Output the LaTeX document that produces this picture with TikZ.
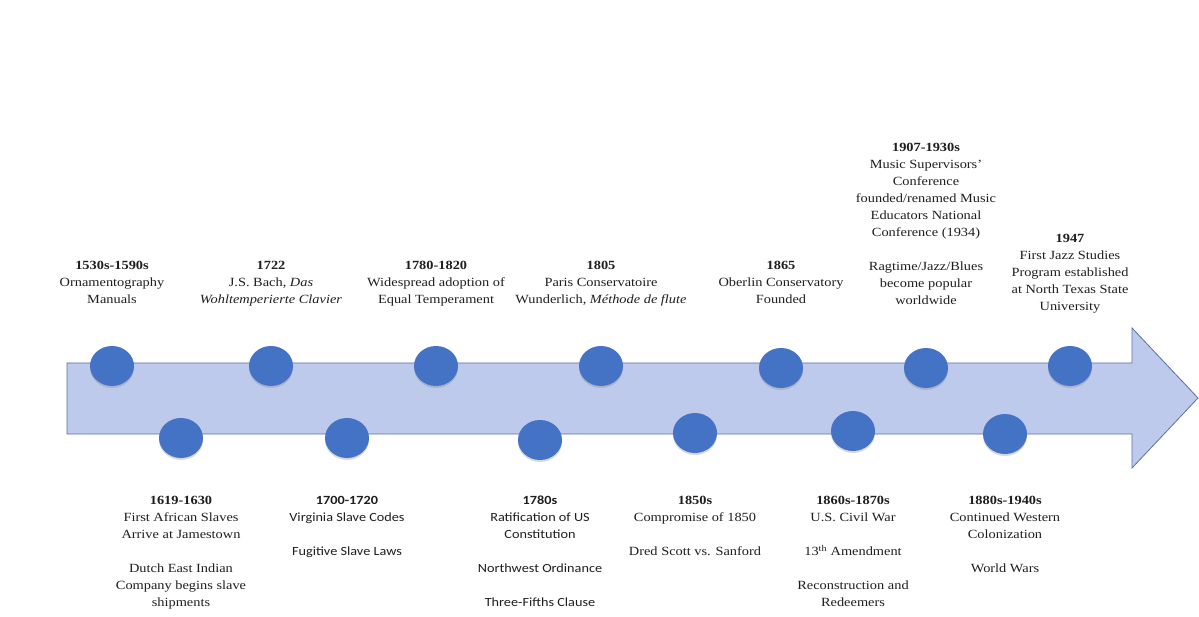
\documentclass[tikz,border=0pt]{standalone}
\usepackage{fontspec}
\setmainfont{Liberation Serif}[FakeStretch=1.15]
\newfontfamily\calibri{Carlito}[FakeStretch=1.14]
\usetikzlibrary{shapes.geometric,shadows}

\definecolor{dotblue}{RGB}{68,114,196}
\definecolor{bandfill}{RGB}{190,202,236}
\definecolor{bandline}{RGB}{88,112,168}
\definecolor{inktext}{RGB}{30,30,30}

\tikzset{
  event/.style={ellipse, fill=dotblue, minimum width=44pt, minimum height=40pt, inner sep=0pt,
    drop shadow={shadow xshift=0pt, shadow yshift=-2pt, opacity=0.3}},
  eventlabel/.style={align=center, anchor=north, inner sep=0pt, text=inktext,
    font=\fontsize{12.5}{17}\selectfont},
  band/.style={fill=bandfill, draw=bandline, line width=0.8pt}
}

\begin{document}
\begin{tikzpicture}[x=1pt, y=-1pt]
    \useasboundingbox (0,0) rectangle (1199,617);
    % the arrow
    \draw[band] (67,363) -- (1132,363) -- (1132,328) -- (1198,398) -- (1132,468) -- (1132,434) -- (67,434) -- cycle;
    % dots above the line
    \node[event] (dot1530) at (112,366) {};
    \node[event] (dot1722) at (271,366) {};
    \node[event] (dot1780) at (436,366) {};
    \node[event] (dot1805) at (601,366) {};
    \node[event] (dot1865) at (781,368) {};
    \node[event] (dot1907) at (926,368) {};
    \node[event] (dot1947) at (1070,366) {};
    % dots below the line
    \node[event] (dot1619) at (181,438) {};
    \node[event] (dot1700) at (347,438) {};
    \node[event] (dot1780s) at (540,440) {};
    \node[event] (dot1850) at (695,433) {};
    \node[event] (dot1860) at (853,431) {};
    \node[event] (dot1880) at (1005,434) {};
    % music education, top
    \node[eventlabel] (lab1530) at (112,261) {\textbf{1530s-1590s}\\Ornamentography\\Manuals};
    \node[eventlabel] (lab1722) at (271,261) {\textbf{1722}\\J.S. Bach, \textit{Das}\\\textit{Wohltemperierte Clavier}};
    \node[eventlabel] (lab1780) at (436,261) {\textbf{1780-1820}\\Widespread adoption of\\Equal Temperament};
    \node[eventlabel] (lab1805) at (601,261) {\textbf{1805}\\Paris Conservatoire\\Wunderlich, \textit{Méthode de flute}};
    \node[eventlabel] (lab1865) at (781,261) {\textbf{1865}\\Oberlin Conservatory\\Founded};
    \node[eventlabel] (lab1907) at (926,143) {\textbf{1907-1930s}\\Music Supervisors’\\Conference\\founded/renamed Music\\Educators National\\Conference (1934)\\[17pt]Ragtime/Jazz/Blues\\become popular\\worldwide};
    \node[eventlabel] (lab1947) at (1070,234) {\textbf{1947}\\First Jazz Studies\\Program established\\at North Texas State\\University};
    % history, bottom
    \node[eventlabel] (lab1619) at (181,496) {\textbf{1619-1630}\\First African Slaves\\Arrive at Jamestown\\[17pt]Dutch East Indian\\Company begins slave\\shipments};
    \node[eventlabel, font=\calibri\fontsize{12.5}{17}\selectfont] (lab1700) at (347,496) {\textbf{1700-1720}\\Virginia Slave Codes\\[17pt]Fugitive Slave Laws};
    \node[eventlabel, font=\calibri\fontsize{12.5}{17}\selectfont] (lab1780s) at (540,496) {\textbf{1780s}\\Ratification of US\\Constitution\\[17pt]Northwest Ordinance\\[17pt]Three-Fifths Clause};
    \node[eventlabel] (lab1850) at (695,496) {\textbf{1850s}\\Compromise of 1850\\[17pt]Dred Scott vs. Sanford};
    \node[eventlabel] (lab1860) at (853,496) {\textbf{1860s-1870s}\\U.S. Civil War\\[17pt]13\textsuperscript{th} Amendment\\[17pt]Reconstruction and\\Redeemers};
    \node[eventlabel] (lab1880) at (1005,496) {\textbf{1880s-1940s}\\Continued Western\\Colonization\\[17pt]World Wars};
\end{tikzpicture}
\end{document}
